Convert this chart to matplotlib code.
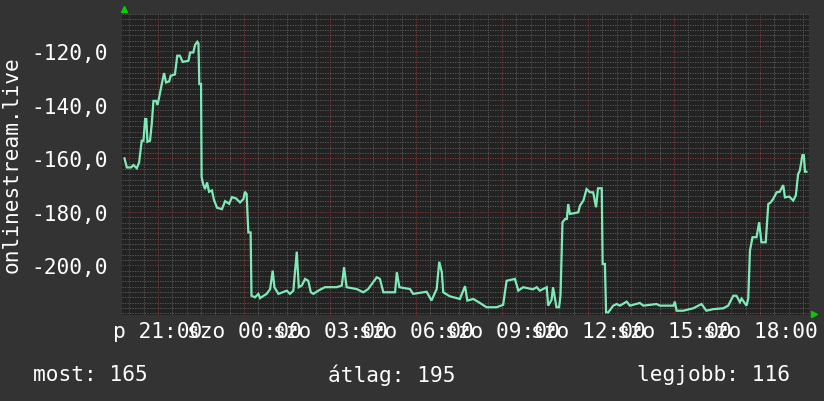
import matplotlib
matplotlib.use("Agg")
import matplotlib.pyplot as plt
from matplotlib.ticker import MultipleLocator, FuncFormatter

# hours counted from Friday 00:00 (24 = Saturday 00:00)
hours = [
    19.83, 19.91, 20.06, 20.14, 20.26, 20.34, 20.43, 20.49, 20.55, 20.59,
    20.63, 20.72, 20.78, 20.84, 20.93, 20.98, 21.05, 21.13, 21.21, 21.28,
    21.39, 21.44, 21.59, 21.67, 21.76, 21.86, 22.06, 22.12, 22.23, 22.29,
    22.37, 22.41, 22.44, 22.50, 22.52, 22.57, 22.64, 22.71, 22.78, 22.88,
    22.95, 23.06, 23.23, 23.34, 23.48, 23.58, 23.72, 23.86, 23.98, 24.03,
    24.09, 24.15, 24.23, 24.26, 24.38, 24.50, 24.56, 24.67, 24.79, 24.91,
    25.00, 25.06, 25.20, 25.49, 25.60, 25.72, 25.84, 25.91, 26.02, 26.13,
    26.24, 26.33, 26.42, 26.59, 26.82, 27.23, 27.41, 27.49, 27.58, 27.93,
    28.16, 28.33, 28.63, 28.74, 28.86, 29.27, 29.33, 29.42, 29.79, 29.90,
    30.37, 30.54, 30.72, 30.81, 30.90, 30.95, 31.18, 31.53, 31.71, 31.79,
    32.00, 32.23, 32.46, 32.81, 33.04, 33.16, 33.45, 33.57, 33.74, 34.08,
    34.21, 34.32, 34.56, 34.61, 34.73, 34.78, 34.90, 34.99, 35.04, 35.11,
    35.20, 35.26, 35.31, 35.37, 35.66, 35.72, 35.84, 35.95, 36.07, 36.18,
    36.28, 36.35, 36.48, 36.51, 36.59, 36.63, 36.71, 36.88, 37.00, 37.11,
    37.35, 37.46, 37.81, 37.93, 38.39, 38.51, 38.98, 39.03, 39.09, 39.32,
    39.67, 39.96, 40.13, 40.37, 40.72, 40.89, 41.07, 41.18, 41.30, 41.36,
    41.53, 41.59, 41.65, 41.74, 41.88, 41.97, 42.05, 42.20, 42.29, 42.37,
    42.46, 42.58, 42.69, 42.81, 42.87, 43.02, 43.16, 43.25, 43.33, 43.39,
    43.48, 43.53, 43.57, 43.62,
]
signal = [
    -160.0, -163.4, -163.4, -162.5, -163.7, -161.5, -153.4, -153.4, -145.3, -145.3,
    -153.8, -153.4, -147.2, -138.5, -138.5, -140.0, -136.6, -132.2, -128.1, -131.6,
    -131.2, -129.1, -128.6, -121.6, -121.6, -123.9, -123.5, -120.4, -120.4, -117.6,
    -116.4, -117.0, -132.2, -132.2, -167.0, -169.5, -171.5, -169.0, -172.5, -172.0,
    -175.5, -178.5, -179.0, -176.0, -177.0, -174.5, -175.0, -176.5, -175.2, -172.5,
    -173.3, -187.7, -187.7, -211.4, -212.0, -210.7, -212.3, -211.5, -210.7, -208.9,
    -202.0, -208.2, -210.7, -209.5, -210.7, -209.5, -194.9, -208.2, -207.5, -205.1,
    -205.8, -210.1, -210.7, -209.5, -208.2, -208.2, -207.6, -200.7, -208.2, -208.9,
    -210.1, -208.9, -204.5, -205.1, -210.1, -210.1, -202.6, -208.2, -208.9, -210.7,
    -209.9, -213.2, -208.9, -198.7, -202.6, -210.1, -211.6, -212.6, -207.8, -213.2,
    -212.6, -214.1, -215.7, -215.7, -214.8, -205.8, -205.1, -209.5, -208.2, -209.0,
    -208.2, -209.5, -208.2, -215.1, -212.9, -208.2, -215.7, -215.7, -211.4, -183.9,
    -182.7, -182.7, -177.1, -180.8, -180.2, -177.7, -175.8, -171.5, -172.7, -172.7,
    -178.3, -171.2, -171.2, -199.5, -199.5, -217.6, -217.6, -215.1, -214.5, -215.1,
    -213.6, -215.1, -214.1, -215.1, -214.5, -215.1, -215.1, -213.6, -217.0, -217.0,
    -216.1, -214.5, -217.0, -216.4, -216.1, -215.1, -211.4, -211.4, -213.8, -212.5,
    -215.1, -212.5, -194.5, -189.5, -189.5, -183.9, -191.4, -191.4, -177.1, -176.5,
    -175.2, -172.7, -172.5, -170.0, -174.6, -174.3, -175.8, -173.9, -165.9, -164.6,
    -158.8, -158.8, -165.0, -165.0,
]

tick_hours = [21, 24, 27, 30, 33, 36, 39, 42]
tick_labels = ["p 21:00", "szo 00:00", "szo 03:00", "szo 06:00",
               "szo 09:00", "szo 12:00", "szo 15:00", "szo 18:00"]
series_name = "onlinestream.live"
legend_items = ["most: 165", "átlag: 195", "legjobb: 116"]

bg = "#333333"
canvas = "#222222"
fg = "#ffffff"
line_color = "#80eab6"
mono = ["DejaVu Sans Mono"]
fsize = 15.2

fig = plt.figure(figsize=(8.24, 4.02), dpi=100, facecolor=bg)
ax = fig.add_axes([122.5 / 824, 1 - 316 / 402, (809 - 122.5) / 824, (316 - 15) / 402])
ax.set_facecolor(canvas)

ax.set_xlim(19.76, 43.71)
ax.set_ylim(-218.6, -106.0)

# grid: minor grey, major red, both dotted
ax.xaxis.set_major_locator(MultipleLocator(1))
ax.xaxis.set_minor_locator(MultipleLocator(0.5))
ax.yaxis.set_major_locator(MultipleLocator(20))
ax.yaxis.set_minor_locator(MultipleLocator(2))
ax.grid(which="minor", color="#555555", linestyle=(0, (1.2, 1.2)), linewidth=0.75)
ax.grid(which="major", color="#7a3434", linestyle=(0, (1.2, 1.2)), linewidth=0.75)
ax.set_axisbelow(True)

labels_by_hour = dict(zip(tick_hours, tick_labels))
ax.xaxis.set_major_formatter(FuncFormatter(
    lambda v, pos: labels_by_hour.get(int(round(v)), "") if abs(v - round(v)) < 1e-6 else ""))
ax.yaxis.set_major_formatter(FuncFormatter(lambda v, pos: f"{v:.1f}".replace(".", ",")))

ax.tick_params(axis="both", which="both", length=0, colors=fg)
ax.tick_params(axis="x", pad=4)
ax.tick_params(axis="y", pad=10.5)
for lab in ax.get_xticklabels() + ax.get_yticklabels():
    lab.set_fontfamily(mono)
    lab.set_fontsize(fsize)
    lab.set_color(fg)

for sp in ax.spines.values():
    sp.set_visible(False)

ax.plot(hours, signal, color=line_color, linewidth=1.6, solid_joinstyle="miter")

# axis arrows
ax.plot([0.002], [1.016], marker="^", color="#00d000", markersize=5,
        transform=ax.transAxes, clip_on=False)
ax.plot([1.008], [0.003], marker=">", color="#00d000", markersize=5,
        transform=ax.transAxes, clip_on=False)

fig.text(12 / 824, 1 - 165 / 402, series_name, rotation=90, ha="center", va="center",
         color=fg, fontsize=fsize, family=mono)

legend_x = [33, 328, 637]
for x, txt in zip(legend_x, legend_items):
    fig.text(x / 824, 1 - 375 / 402, txt, ha="left", va="center",
             color=fg, fontsize=fsize, family=mono)

fig.savefig("out.png", dpi=100, facecolor=bg)
